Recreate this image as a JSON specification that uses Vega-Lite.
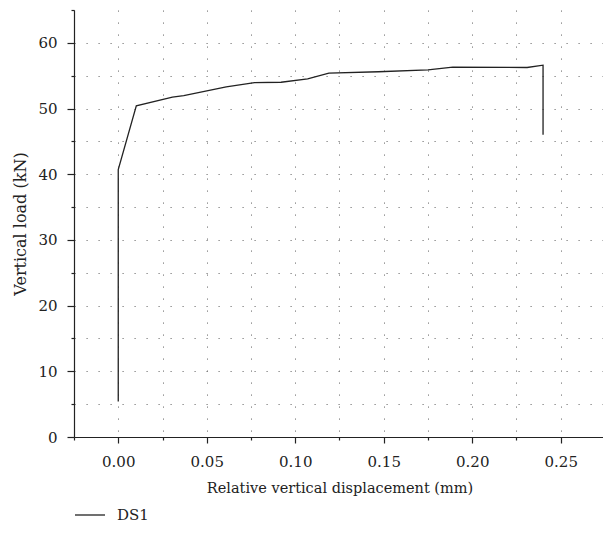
{
  "$schema": "https://vega.github.io/schema/vega-lite/v6.json",
  "autosize": "none",
  "width": 531,
  "height": 427,
  "padding": {"left": 74, "top": 10, "right": 0, "bottom": 106},
  "background": "white",
  "config": {
    "font": "DejaVu Serif",
    "view": {"stroke": null},
    "axis": {
      "labelFont": "DejaVu Serif",
      "titleFont": "DejaVu Serif",
      "labelFontSize": 15,
      "titleFontSize": 14.5,
      "titleFontWeight": "normal",
      "labelColor": "#222",
      "titleColor": "#222",
      "domainColor": "#222",
      "tickColor": "#222",
      "domainWidth": 1.2,
      "tickWidth": 1.2,
      "gridColor": "#777",
      "gridDash": [1.2, 10.8],
      "gridWidth": 1
    },
    "legend": {"labelFont": "DejaVu Serif", "labelFontSize": 15, "labelColor": "#222"}
  },
  "data": {
    "values": [
      {"i": 1, "d": 0.0, "load": 5.4, "series": "DS1"},
      {"i": 2, "d": 0.0, "load": 40.7, "series": "DS1"},
      {"i": 3, "d": 0.0102, "load": 50.4, "series": "DS1"},
      {"i": 4, "d": 0.0306, "load": 51.75, "series": "DS1"},
      {"i": 5, "d": 0.037, "load": 51.95, "series": "DS1"},
      {"i": 6, "d": 0.061, "load": 53.3, "series": "DS1"},
      {"i": 7, "d": 0.077, "load": 53.95, "series": "DS1"},
      {"i": 8, "d": 0.092, "load": 54.0, "series": "DS1"},
      {"i": 9, "d": 0.107, "load": 54.5, "series": "DS1"},
      {"i": 10, "d": 0.119, "load": 55.4, "series": "DS1"},
      {"i": 11, "d": 0.147, "load": 55.6, "series": "DS1"},
      {"i": 12, "d": 0.175, "load": 55.9, "series": "DS1"},
      {"i": 13, "d": 0.189, "load": 56.3, "series": "DS1"},
      {"i": 14, "d": 0.231, "load": 56.25, "series": "DS1"},
      {"i": 15, "d": 0.240, "load": 56.6, "series": "DS1"},
      {"i": 16, "d": 0.240, "load": 46.0, "series": "DS1"}
    ]
  },
  "mark": {"type": "line", "strokeWidth": 1.3, "clip": true},
  "encoding": {
    "x": {
      "field": "d",
      "type": "quantitative",
      "scale": {"domain": [-0.025, 0.275], "nice": false, "zero": false},
      "axis": {
        "title": "Relative vertical displacement (mm)",
        "values": [-0.025, 0, 0.025, 0.05, 0.075, 0.1, 0.125, 0.15, 0.175, 0.2, 0.225, 0.25, 0.275],
        "labelExpr": "abs(round(datum.value*40)) % 2 == 0 ? format(datum.value, '.2f') : ''",
        "tickSize": {"condition": {"test": "abs(round(datum.value*40)) % 2 == 0", "value": 6}, "value": 3},
        "labelPadding": 11,
        "titlePadding": 12,
        "grid": true
      }
    },
    "y": {
      "field": "load",
      "type": "quantitative",
      "scale": {"domain": [0, 65], "nice": false},
      "axis": {
        "title": "Vertical load (kN)",
        "titleFontSize": 16,
        "values": [0, 5, 10, 15, 20, 25, 30, 35, 40, 45, 50, 55, 60, 65],
        "labelExpr": "round(datum.value) % 10 == 0 ? format(datum.value, 'd') : ''",
        "tickSize": {"condition": {"test": "round(datum.value) % 10 == 0", "value": 7}, "value": 3},
        "gridOpacity": {"condition": {"test": "datum.value == 65", "value": 0}, "value": 1},
        "labelPadding": 10,
        "titlePadding": 9,
        "grid": true
      }
    },
    "order": {"field": "i", "type": "quantitative"},
    "color": {
      "field": "series",
      "type": "nominal",
      "scale": {"range": ["#222"]},
      "legend": {
        "title": null,
        "orient": "none",
        "legendX": 0,
        "legendY": 489,
        "symbolType": "stroke",
        "symbolSize": 900,
        "symbolStrokeWidth": 1.3,
        "labelOffset": 11
      }
    }
  }
}
